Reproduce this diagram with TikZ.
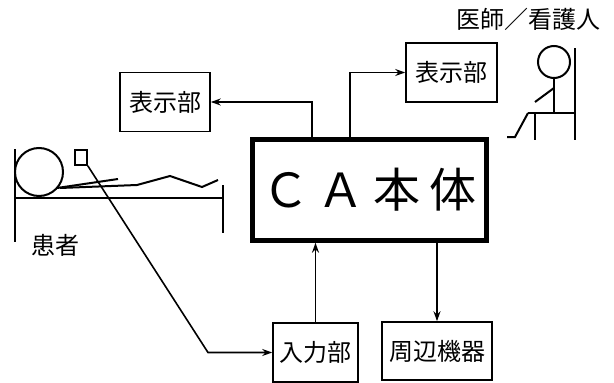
\documentclass[tikz,border=0pt]{standalone}
\usepackage{fontspec}
\newfontfamily\jpfont{Noto Sans CJK JP}
\usetikzlibrary{arrows.meta,calc,positioning}
\tikzstyle{unit} = [rectangle, minimum height=59pt, text centered, draw=black, line width=1.6pt, inner sep=0pt, font=\jpfont\fontsize{24}{24}\selectfont]
\tikzstyle{mainunit} = [rectangle, minimum width=234pt, minimum height=101pt, text centered, draw=black, line width=4.5pt, font=\jpfont\fontsize{47}{47}\selectfont]
\tikzstyle{tag} = [font=\jpfont\fontsize{24}{24}\selectfont]
\tikzstyle{figure} = [line width=2pt]
\tikzstyle{arrow} = [line width=1.6pt,->,>={Stealth[length=10pt,width=7pt]}]

\begin{document}
\begin{tikzpicture}[x=1pt,y=-1pt]
\useasboundingbox (0,0) rectangle (614,383);

\node (cabody) [mainunit] at (369.5,190) {Ｃ\hspace{9pt}Ａ\hspace{9pt}本\hspace{9pt}体};
\node (dispL) [unit, minimum width=90pt] at (165,102) {表示部};
\node (dispR) [unit, minimum width=91pt] at (451.5,72.5) {表示部};
\node (input) [unit, minimum width=85pt] at (315.5,352.5) {入力部};
\node (periph) [unit, minimum width=110pt, minimum height=58pt] at (437,351) {周辺機器};
\node (sensor) [draw, line width=1.6pt, minimum width=12pt, minimum height=15pt, inner sep=0pt] at (81,157.5) {};
%
\node (patient) [tag] at (55,245) {患者};
\node (staff) [tag] at (528,19) {医師／看護人};

% patient on bed
\draw [figure] (15,149) -- (15,242);
\draw [figure] (39,172) circle[radius=24pt];
\draw [figure] (15,198) -- (223,198);
\draw [figure] (223,185) -- (223,233);
\draw [figure] (57,188) -- (118,179);
\draw [figure] (60,188) -- (137,185) -- (170,176) -- (202,187) -- (218,180);

% doctor on chair
\draw [figure] (554,62) circle[radius=16pt];
\draw [figure] (575,48) -- (575,140);
\draw [figure] (528,113) -- (575,113);
\draw [figure] (535,113) -- (535,140);
\draw [figure] (554,78) -- (554,113);
\draw [figure] (554,88) -- (535,102);
\draw [figure] (528,113) -- (515,137) -- (507,137);

\coordinate (bend) at (208,352.5);
\draw [arrow] ([xshift=-57.5pt]cabody.north) |- (dispL.east);
\draw [arrow] ([xshift=-19.5pt]cabody.north) |- (dispR.west);
\draw [arrow] (input.north) -- (input.north |- cabody.south);
\draw [arrow] (cabody.south -| periph.north) -- (periph.north);
\draw [arrow] (sensor.south east) -- (bend) -- (input.west);

\end{tikzpicture}
\end{document}
